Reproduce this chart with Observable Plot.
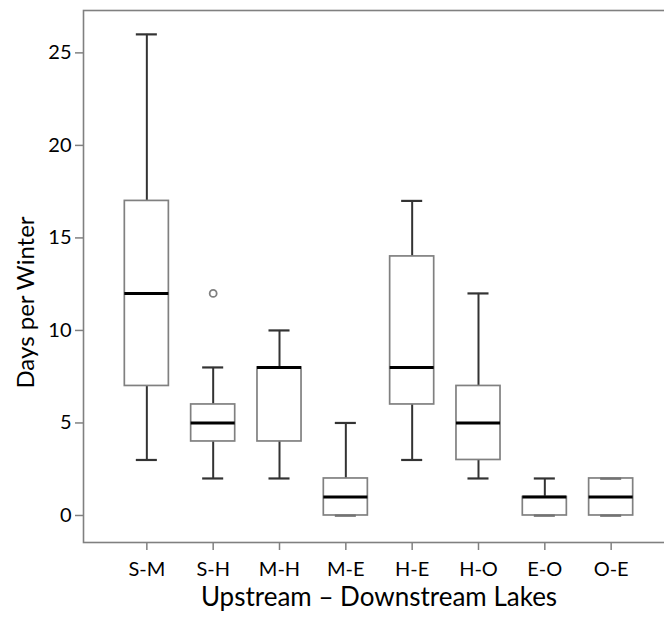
<!DOCTYPE html>
<html>
<head>
<meta charset="utf-8">
<script src="https://cdn.jsdelivr.net/npm/d3@7"></script>
<script src="https://cdn.jsdelivr.net/npm/@observablehq/plot@0.6"></script>
<style>
  html, body { margin: 0; padding: 0; background: #fff; overflow: hidden; }
  #chart svg { overflow: hidden; }
</style>
</head>
<body>
<div id="chart"></div>
<script>
// Data
const categories = ["S-M", "S-H", "M-H", "M-E", "H-E", "H-O", "E-O", "O-E"];
const whiskerLow = [3, 2, 2, 0, 3, 2, 0, 0];
const quartile1 = [7, 4, 4, 0, 6, 3, 0, 0];
const medians = [12, 5, 8, 1, 8, 5, 1, 1];
const quartile3 = [17, 6, 8, 2, 14, 7, 1, 2];
const whiskerHigh = [26, 8, 10, 5, 17, 12, 2, 2];
const outlierCategories = ["S-H"];
const outlierValues = [12];
const yTicks = [0, 5, 10, 15, 20, 25];
const xTitle = "Upstream \u2013 Downstream Lakes";
const yTitle = "Days per Winter";

const boxes = categories.map((c, i) => ({
  cat: c, lo: whiskerLow[i], q1: quartile1[i], med: medians[i], q3: quartile3[i], hi: whiskerHigh[i]
}));
const outliers = outlierCategories.map((c, i) => ({cat: c, value: outlierValues[i]}));

const FONT = "Lato, 'Open Sans', sans-serif";
const gray = "#808080";

const chart = Plot.plot({
  width: 664,
  height: 627,
  marginLeft: 83,
  marginTop: 10,
  marginBottom: 85,
  marginRight: -10,
  style: {fontFamily: FONT, fontSize: "20px", color: "#000", background: "#fff"},
  x: {type: "band", domain: categories, paddingInner: 0.336, paddingOuter: 0.623, round: false},
  y: {domain: [-1.46, 27.29]},
  marks: [
    Plot.frame({stroke: gray, strokeWidth: 1.6}),
    Plot.axisY({ticks: yTicks, tickSize: 8, tickPadding: 4, stroke: gray, strokeWidth: 1.5, label: null, fontSize: 20}),
    Plot.axisX({tickSize: 8, tickPadding: 11, stroke: gray, strokeWidth: 1.5, label: null, fontSize: 20}),
    // whiskers
    Plot.ruleX(boxes, {x: "cat", y1: "lo", y2: "q1", stroke: "#333", strokeWidth: 2}),
    Plot.ruleX(boxes, {x: "cat", y1: "q3", y2: "hi", stroke: "#333", strokeWidth: 2}),
    Plot.tickY(boxes, {x: "cat", y: "lo", stroke: "#333", strokeWidth: 2.2, insetLeft: 11.5, insetRight: 11.5}),
    Plot.tickY(boxes, {x: "cat", y: "hi", stroke: "#333", strokeWidth: 2.2, insetLeft: 11.5, insetRight: 11.5}),
    // boxes
    Plot.barY(boxes, {x: "cat", y1: "q1", y2: "q3", fill: "white", fillOpacity: 0, stroke: gray, strokeWidth: 1.7}),
    Plot.tickY(boxes, {x: "cat", y: "med", stroke: "#000", strokeWidth: 3}),
    // outliers
    Plot.dot(outliers, {x: "cat", y: "value", r: 3.5, stroke: gray, strokeWidth: 1.8, fill: "none"}),
    // axis titles
    Plot.text([yTitle], {frameAnchor: "left", textAnchor: "middle", dx: -57, dy: 26, rotate: -90, fontSize: 24, fill: "#000"}),
    Plot.text([xTitle], {frameAnchor: "bottom", textAnchor: "middle", dy: 63, fontSize: 26, fill: "#000"})
  ]
});
document.getElementById("chart").appendChild(chart);
</script>
</body>
</html>
